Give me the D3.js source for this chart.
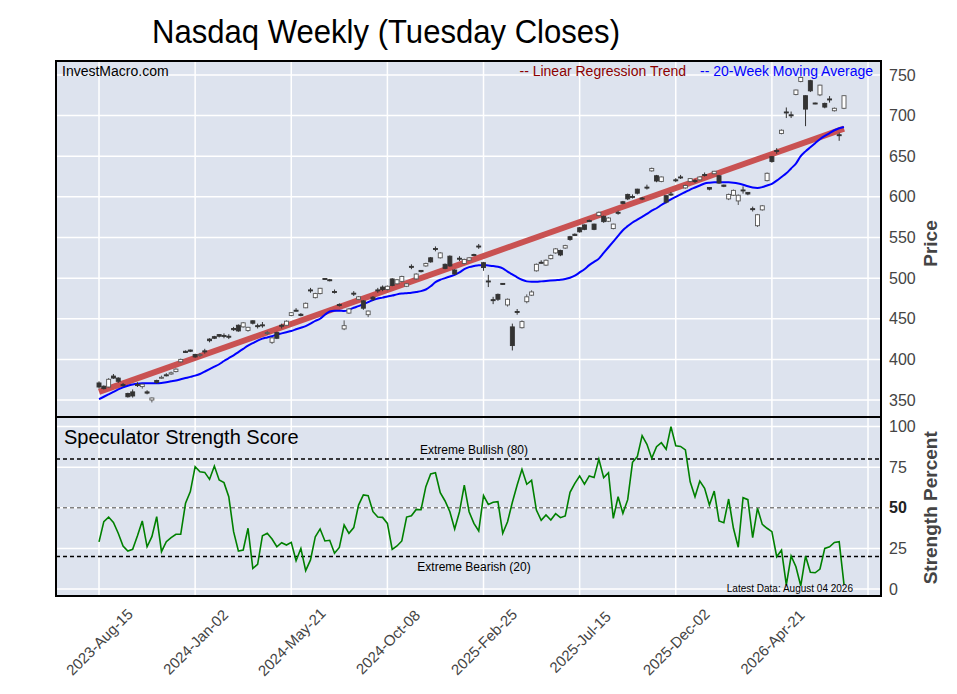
<!DOCTYPE html>
<html>
<head>
<meta charset="utf-8">
<script src="https://cdn.jsdelivr.net/npm/d3@7"></script>
<style>
  body { margin: 0; background: #fff; }
  svg { display: block; font-family: "Liberation Sans", Arial, sans-serif; }
</style>
</head>
<body>
<svg id="chart" width="957" height="694"></svg>
<script>
// weekly Tuesday data, first week below, one value per week
const firstWeek = '2023-08-15'
const tickLabels = ['2023-Aug-15', '2024-Jan-02', '2024-May-21', '2024-Oct-08',
  '2025-Feb-25', '2025-Jul-15', '2025-Dec-02', '2026-Apr-21']
const priceTicks = [350, 400, 450, 500, 550, 600, 650, 700, 750]
const strengthTicks = [0, 25, 50, 75, 100]

const openPrices = [371, 367, 366, 379.5, 377, 369, 358, 360, 369, 366.5,
  360, 350, 374, 377, 381, 382, 385, 397, 410, 411.5,
  406, 405, 410.5, 425, 428, 430.5, 429.5, 428.5, 438, 442,
  440, 435.5, 447.5, 441.5, 442.5, 432, 421, 433, 442, 442,
  454, 460.5, 455.5, 463.5, 485.5, 476, 481, 499.5, 498, 483.5,
  467.5, 437.5, 457, 481.5, 474, 472, 455, 476.5, 485.5, 489,
  486, 499, 493, 496, 490, 514.5, 499, 509.5, 515, 525,
  536.5, 525, 517, 527, 510, 524.5, 518, 522, 529, 539.5,
  519, 496.5, 473.5, 480, 493.5, 467, 440, 459, 439, 471,
  479, 509, 519.5, 516, 524, 531, 534, 537, 551, 554,
  562, 565.5, 571, 566.5, 577, 576, 570, 561, 581, 594,
  603, 600.5, 609.5, 598.5, 612, 632, 626, 619, 601.5, 603.5,
  621, 624.5, 611, 619, 620, 621, 627.5, 611.5, 628.5, 626,
  614.5, 597.5, 602, 595, 608.5, 605.5, 585.5, 564.5, 584, 620,
  649.5, 657, 678, 704.5, 701, 726, 742, 724.5, 743, 715.5,
  725.5, 715, 720.5, 706, 676.5, 709]
const closePrices = [366, 364, 375.5, 377, 373, 368, 354, 355, 368.5, 369.5,
  358.5, 352.5, 371.5, 378, 380, 383.5, 388, 400, 408.5, 410,
  403, 406, 410, 423, 426, 428.5, 429, 428, 436.5, 435,
  445, 439.5, 444.5, 440.5, 442, 433, 426.5, 426, 441, 447,
  457.5, 460, 454, 469, 485, 481, 487.5, 498.5, 497, 483,
  467, 441.5, 462, 481, 477, 463, 459.5, 474, 485, 486,
  490, 491, 498, 502, 493, 514, 505, 508, 518, 520,
  536, 531, 512, 515, 505, 524, 523, 525, 528, 539,
  513, 496, 473, 474, 493, 474, 417, 458.5, 446.5, 477,
  483, 517, 519, 522, 528, 536, 528.5, 540, 547.5, 552.5,
  557, 560, 569.5, 560, 581, 569.5, 574, 566.5, 580.5, 592,
  597.5, 600, 604.5, 598, 611.5, 635, 619.5, 624.5, 593.5, 603,
  620.5, 624, 614, 622.5, 619.5, 624.5, 627, 609.5, 631.5, 617,
  613, 603, 608, 602, 608, 603.5, 585, 578, 589, 629,
  643.5, 656.5, 682, 704, 700.5, 731.5, 747, 708, 730.5, 714.5,
  737.5, 710.5, 720, 709, 676, 724.5]
const highPrices = [373, 368, 377, 382, 378, 371, 359, 363, 372, 370,
  362, 353, 375, 380, 383, 385, 389, 401, 411, 412,
  407, 408, 413, 426, 429, 431, 432, 431, 440, 443,
  446, 440, 448, 444, 446, 435, 427, 434, 444, 448,
  458, 463, 457, 470, 488, 482, 488, 500, 499, 486,
  469, 448, 463, 484, 478, 473, 460, 478, 488, 491,
  491, 500, 499, 503, 494, 517, 506, 510, 519, 526,
  539, 532, 518, 528, 511, 527, 524, 526, 530, 542,
  520, 504, 477, 481, 494, 475, 444, 462, 448, 480,
  485, 518, 522, 523, 529, 537, 535, 541, 552, 555,
  563, 566, 572, 567, 582, 577, 575, 567, 583, 595,
  604, 603, 610, 600, 615, 636, 627, 625, 602, 606,
  623, 627, 615, 623, 622, 625, 630, 612, 632, 627,
  615, 604, 609, 603, 613, 606, 588, 579, 590, 630,
  650, 660, 683, 710, 705, 732, 748, 725, 744, 716,
  738, 716, 724, 710, 679, 725]
const lowPrices = [364, 363, 365, 376, 371, 366, 353, 353, 366, 364,
  357, 347, 370, 376, 379, 381, 384, 396, 408, 409,
  402, 403, 407, 421, 425, 427, 426, 425, 435, 434,
  439, 434, 443, 438, 439, 430, 419, 425, 438, 441,
  453, 459, 453, 463, 482, 475, 480, 498, 496, 481,
  465, 436, 456, 478, 473, 461, 452, 472, 482, 484,
  485, 490, 492, 495, 489, 511, 498, 507, 514, 519,
  533, 524, 511, 514, 504, 521, 517, 521, 527, 536,
  509, 489, 468, 472, 492, 465, 411, 455, 438, 469,
  478, 508, 518, 515, 523, 530, 527, 536, 546, 552,
  556, 559, 569, 559, 576, 568, 569, 560, 578, 591,
  596, 598, 603, 596, 609, 631, 618, 618, 592, 601,
  618, 622, 610, 618, 617, 620, 625, 608, 628, 616,
  612, 596, 601, 590, 604, 602, 582, 563, 583, 619,
  642, 653, 677, 697, 697, 725, 741, 687, 729, 714,
  724, 709, 716, 705, 669, 708]
const movingAverage = [351, 354, 357, 360, 363, 365.5, 367.5, 369, 370, 370.5,
  370.5, 370.5, 370.5, 371, 372, 373, 374, 375.5, 377, 378.5,
  380, 382, 385, 388, 391, 394, 398, 401.5, 405, 409,
  413, 417, 420, 423, 425.5, 427, 428.5, 430.5, 432, 433.5,
  435, 437, 439, 441, 444, 447.5, 450, 455, 459, 460,
  460, 459.5, 461, 463.5, 465.5, 468, 470.5, 473, 475, 476,
  477.5, 478.5, 480, 481, 481.5, 482, 483, 484, 486, 490,
  495, 498, 500, 502, 504, 507, 511, 513.5, 515, 516,
  516, 515.5, 515, 514, 512, 508, 504.5, 501, 498, 496,
  495.5, 495.5, 496, 496.5, 497, 497.5, 498, 499, 500.5, 503,
  507, 511, 516, 520, 524, 531, 538, 545, 552, 559,
  564, 568.5, 572, 575.5, 579, 583, 586, 590, 593.5, 597,
  600, 603, 606, 609, 611.5, 614, 616.5, 617.5, 618, 618,
  618, 618, 617.5, 616.5, 615, 613, 611.5, 611, 612, 614,
  616, 620, 624.5, 629, 635, 641, 650, 656, 661, 666,
  671, 675, 678.5, 682, 684.5, 686]
const trendStart = 360
const trendEnd = 684
const strengthScore = [29, 41.5, 44.3, 41, 34.3, 26.5, 23.4, 24.4, 32.8, 41.9,
  26, 32.2, 44.5, 23, 29.1, 31.6, 33.7, 33.7, 52.8, 60,
  75.3, 72.2, 71.8, 67.5, 75.7, 67.1, 65.5, 56.8, 35.3, 23.4,
  24, 37.4, 12.7, 15.2, 32.8, 34.3, 30.8, 26, 28.5, 27.1,
  28.7, 17.4, 25, 11.3, 17.9, 32.2, 37, 29.6, 30, 22,
  25.6, 39.4, 34.3, 37.8, 51.7, 57.9, 57.5, 47.6, 44.3, 44.1,
  40.4, 24.4, 26.5, 29.6, 44.3, 45.1, 49, 48.8, 63, 70.8,
  71.6, 59.3, 54.2, 47.6, 37, 47.6, 64, 47.6, 40.4, 35.7,
  57.5, 52.1, 53.4, 53.8, 34.3, 41.4, 53.4, 64, 73.7, 64.5,
  66.9, 48.6, 42.3, 45.6, 42.5, 46.4, 43.9, 45, 59.5, 65,
  69.6, 64.5, 69.6, 68.6, 80, 68.6, 71.6, 43.5, 56.8, 46.6,
  55, 78, 81.5, 94.4, 89.1, 80.5, 87.6, 90.1, 86, 100,
  88.2, 87.8, 85.6, 66, 56.8, 66.5, 62, 51.7, 60.3, 41.9,
  40.8, 55.4, 37.4, 25.7, 56.2, 55, 31.6, 49.7, 39.8, 37.4,
  35.3, 19.9, 24, 2.5, 20.3, 13.7, 2, 20.3, 10.3, 10,
  12.3, 25, 26, 28.7, 29.1, 2.9]

const svg = d3.select('#chart')
const plotLeft = 56
const plotRight = 881
const plotTop = 61
const plotSplit = 417
const plotBottom = 596
const bg = '#dde3ee'
const font = '"Liberation Sans", Arial, sans-serif'

const start = d3.timeParse('%Y-%m-%d')(firstWeek)
const weekMs = 7 * 864e5
const weekAt = w => new Date(start.getTime() + w * weekMs)
const weeks = closePrices.map((d, i) => d3.timeWeek.offset(start, i))
const tickDates = tickLabels.map(d3.timeParse('%Y-%b-%d'))
const gridDates = tickDates.concat([d3.timeWeek.offset(tickDates[tickDates.length - 1], 20)])

const x = d3.scaleTime().domain([weekAt(-8.95), weekAt(162.7)]).range([plotLeft, plotRight])
const yPrice = d3.scaleLinear().domain([329.1, 767.2]).range([plotSplit, plotTop])
const yStrength = d3.scaleLinear().domain([-4.3, 105.9]).range([plotBottom, plotSplit])

// backgrounds
svg.append('rect').attr('x', plotLeft).attr('y', plotTop).attr('width', plotRight - plotLeft)
  .attr('height', plotBottom - plotTop).attr('fill', bg)

svg.append('clipPath').attr('id', 'clipTop').append('rect')
  .attr('x', plotLeft).attr('y', plotTop).attr('width', plotRight - plotLeft).attr('height', plotSplit - plotTop)
svg.append('clipPath').attr('id', 'clipBottom').append('rect')
  .attr('x', plotLeft).attr('y', plotSplit).attr('width', plotRight - plotLeft).attr('height', plotBottom - plotSplit)

// grid
const grid = svg.append('g').attr('stroke', '#fff').attr('stroke-width', 1.5)
grid.selectAll('.vgrid').data(gridDates).join('line')
  .attr('x1', d => x(d)).attr('x2', d => x(d)).attr('y1', plotTop).attr('y2', plotBottom)
grid.selectAll('.pgrid').data(priceTicks).join('line')
  .attr('x1', plotLeft).attr('x2', plotRight).attr('y1', d => yPrice(d)).attr('y2', d => yPrice(d))
grid.selectAll('.sgrid').data(strengthTicks).join('line')
  .attr('x1', plotLeft).attr('x2', plotRight).attr('y1', d => yStrength(d)).attr('y2', d => yStrength(d))

// upper panel
const upper = svg.append('g').attr('clip-path', 'url(#clipTop)')

upper.append('line')
  .attr('x1', x(weeks[0])).attr('y1', yPrice(trendStart))
  .attr('x2', x(weeks[weeks.length - 1])).attr('y2', yPrice(trendEnd))
  .attr('stroke', '#c95252').attr('stroke-width', 6)

upper.append('path').datum(movingAverage)
  .attr('fill', 'none').attr('stroke', '#0000ff').attr('stroke-width', 2)
  .attr('d', d3.line().x((d, i) => x(weeks[i])).y(d => yPrice(d)).curve(d3.curveMonotoneX))

const candles = upper.selectAll('.candle').data(closePrices).join('g').attr('class', 'candle')
candles.each(function (c, i) {
  const g = d3.select(this)
  const o = openPrices[i]
  const up = c >= o
  const cx = x(weeks[i])
  const col = up ? '#555' : '#333'
  g.append('line').attr('x1', cx).attr('x2', cx)
    .attr('y1', yPrice(highPrices[i])).attr('y2', yPrice(lowPrices[i]))
    .attr('stroke', col).attr('stroke-width', 1)
  const y0 = yPrice(Math.max(o, c))
  const h = Math.max(1, yPrice(Math.min(o, c)) - y0)
  g.append('rect').attr('x', cx - 2).attr('y', y0).attr('width', 4).attr('height', h)
    .attr('fill', up ? '#fff' : '#333').attr('stroke', col).attr('stroke-width', 0.9)
})

// lower panel
const lower = svg.append('g').attr('clip-path', 'url(#clipBottom)')
lower.selectAll('.level').data([80, 50, 20]).join('line')
  .attr('x1', plotLeft).attr('x2', plotRight)
  .attr('y1', d => yStrength(d)).attr('y2', d => yStrength(d))
  .attr('stroke', d => d === 50 ? '#808080' : '#000')
  .attr('stroke-width', 1.6).attr('stroke-dasharray', '4,3')

lower.append('path').datum(strengthScore)
  .attr('fill', 'none').attr('stroke', '#008000').attr('stroke-width', 1.6)
  .attr('d', d3.line().x((d, i) => x(weeks[i])).y(d => yStrength(d)))

// frame
svg.append('rect').attr('x', plotLeft).attr('y', plotTop).attr('width', plotRight - plotLeft)
  .attr('height', plotBottom - plotTop).attr('fill', 'none').attr('stroke', '#000').attr('stroke-width', 2)
svg.append('line').attr('x1', plotLeft).attr('x2', plotRight).attr('y1', plotSplit).attr('y2', plotSplit)
  .attr('stroke', '#000').attr('stroke-width', 2)

// axes
const priceAxis = svg.append('g').attr('transform', `translate(${plotRight},0)`)
  .call(d3.axisRight(yPrice).tickValues(priceTicks).tickSize(0).tickPadding(8))
const strengthAxis = svg.append('g').attr('transform', `translate(${plotRight},0)`)
  .call(d3.axisRight(yStrength).tickValues(strengthTicks).tickSize(0).tickPadding(8))
const dateAxis = svg.append('g').attr('transform', `translate(0,${plotBottom})`)
  .call(d3.axisBottom(x).tickValues(tickDates).tickSize(0)
    .tickFormat((d, i) => tickLabels[i]))

;[priceAxis, strengthAxis, dateAxis].forEach(a => {
  a.select('.domain').remove()
  a.selectAll('text').attr('fill', '#444').style('font-family', font).style('font-size', '16px')
})
strengthAxis.selectAll('text').filter(d => d === 50).attr('fill', '#222').style('font-weight', 'bold')
dateAxis.selectAll('text')
  .attr('y', 0).attr('dy', '0.35em').attr('text-anchor', 'middle')
  .attr('transform', 'translate(0,46) rotate(-45)')
  .style('font-size', '15px')

// texts
const label = (tx, ty, str, size, opts = {}) => svg.append('text')
  .attr('x', tx).attr('y', ty).text(str)
  .attr('fill', opts.fill || '#000')
  .attr('text-anchor', opts.anchor || 'start')
  .attr('font-weight', opts.weight || 'normal')
  .attr('transform', opts.transform || null)
  .style('font-size', size + 'px')

label(152, 43, 'Nasdaq Weekly (Tuesday Closes)', 33)
  .attr('textLength', 468).attr('lengthAdjust', 'spacingAndGlyphs')
label(62, 76, 'InvestMacro.com', 14)
label(686, 76, '-- Linear Regression Trend', 14, { anchor: 'end', fill: '#8b0000' })
label(873, 76, '-- 20-Week Moving Average', 14, { anchor: 'end', fill: '#0000ff' })
label(64, 444, 'Speculator Strength Score', 20)
label(474, yStrength(80) - 5, 'Extreme Bullish (80)', 12, { anchor: 'middle' })
label(474, yStrength(20) + 14, 'Extreme Bearish (20)', 12, { anchor: 'middle' })
label(853, 592, 'Latest Data: August 04 2026', 10, { anchor: 'end' })
label(0, 0, 'Price', 19, { anchor: 'middle', weight: 'bold', fill: '#444',
  transform: `translate(937,${yPrice(550) + 6}) rotate(-90)` })
label(0, 0, 'Strength Percent', 19, { anchor: 'middle', weight: 'bold', fill: '#444',
  transform: `translate(937,${yStrength(50)}) rotate(-90)` })
</script>
</body>
</html>
